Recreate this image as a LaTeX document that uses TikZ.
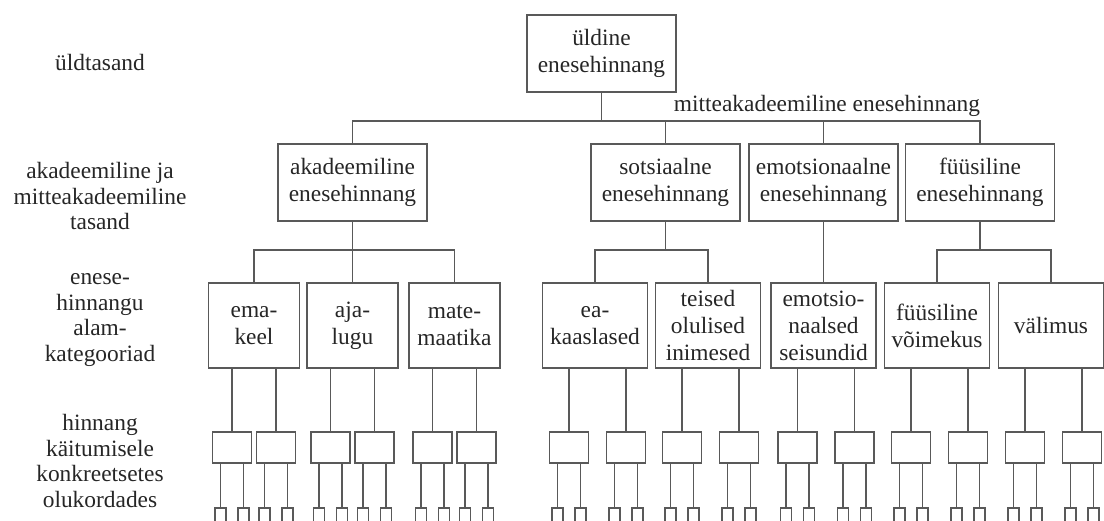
\documentclass[tikz,border=0pt]{standalone}
\usepackage{fontspec}
\setmainfont{Liberation Serif}
\usetikzlibrary{calc}

\tikzset{
  ebox/.style={draw=black!65, line width=1.3pt, align=center, inner sep=0pt,
    text=black!85, font=\fontsize{23.4}{27}\selectfont},
  lvlbox/.style={ebox, minimum width=149pt, minimum height=77pt},
  catbox/.style={ebox, minimum height=85pt},
  hbox/.style={draw=black!65, line width=1.3pt, inner sep=0pt, minimum width=39pt, minimum height=31pt},
  obox/.style={draw=black!65, line width=1.3pt, inner sep=0pt, minimum width=11pt, minimum height=14pt},
  link/.style={draw=black!65, line width=1.3pt},
  lvltext/.style={align=center, inner sep=0pt, text=black!85, font=\fontsize{23.4}{25.5}\selectfont}
}

\begin{document}
\begin{tikzpicture}[x=1pt, y=-1pt]
  \clip (0,0) rectangle (1104,520);

  % levels on the left
  \node [lvltext] (t1) at (100,62) {üldtasand};
  \node [lvltext] (t2) at (100,196) {akadeemiline ja\\mitteakadeemiline\\tasand};
  \node [lvltext] (t3) at (100,320) {enese-\\hinnangu\\alam-\\kategooriad};
  \node [lvltext] (t4) at (100,461) {hinnang\\käitumisele\\konkreetsetes\\olukordades};

  \node [lvlbox] (top) at (601.5,53.5) {üldine\\enesehinnang};

  \node [lvlbox] (akad) at (352.5,182.5) {akadeemiline\\enesehinnang};
  \node [lvlbox] (sots) at (665.5,182.5) {sotsiaalne\\enesehinnang};
  \node [lvlbox] (emots) at (823.5,182.5) {emotsionaalne\\enesehinnang};
  \node [lvlbox] (fyys) at (980,182.5) {füüsiline\\enesehinnang};

  \node [lvltext] (mitte) at (827,106) {mitteakadeemiline enesehinnang};

  \coordinate (b1) at (601.5,121);
  \draw [link] (top.south) -- (b1);
  \draw [link] (akad.north) |- (b1) -| (fyys.north);
  \draw [link] (sots.north) -- (sots.north |- b1);
  \draw [link] (emots.north) -- (emots.north |- b1);

  \node [catbox, minimum width=91pt] (ema) at (254,325.5) {ema-\\keel};
  \node [catbox, minimum width=91pt] (aja) at (352.5,325.5) {aja-\\lugu};
  \node [catbox, minimum width=91pt] (mate) at (454.5,325.5) {mate-\\maatika};
  \node [catbox, minimum width=105pt] (eak) at (595,325.5) {ea-\\kaaslased};
  \node [catbox, minimum width=105pt] (teised) at (708,325.5) {teised\\olulised\\inimesed};
  \node [catbox, minimum width=105pt] (emsei) at (823.5,325.5) {emotsio-\\naalsed\\seisundid};
  \node [catbox, minimum width=105pt] (fvoim) at (937,325.5) {füüsiline\\võimekus};
  \node [catbox, minimum width=105pt] (valim) at (1051,325.5) {välimus};

  \coordinate (b3a) at (352.5,250);
  \coordinate (b3s) at (665.5,250);
  \coordinate (b3f) at (980,250);
  \draw [link] (akad.south) -- (aja.north);
  \draw [link] (ema.north) |- (b3a) -| (mate.north);
  \draw [link] (sots.south) -- (b3s);
  \draw [link] (eak.north) |- (b3s) -| (teised.north);
  \draw [link] (emots.south) -- (emsei.north);
  \draw [link] (fyys.south) -- (b3f);
  \draw [link] (fvoim.north) |- (b3f) -| (valim.north);

  % concrete situations
  \foreach \p/\x/\l/\r in {ema/254/22/22, aja/352.5/22/22, mate/454.5/22/22,
      eak/595/26/31, teised/708/26/31, emsei/823.5/26/31, fvoim/937/26/31, valim/1051/26/31}{
    \foreach \k/\dx in {1/-\l, 2/\r}{
      \node [hbox] (\p-\k) at (\x+\dx,447.5) {};
      \draw [link] (\p-\k.north) -- (\p-\k.north |- \p.south);
      \foreach \j/\ddx in {a/-11.5, b/11.5}{
        \node [obox] (\p-\k\j) at (\x+\dx+\ddx,515) {};
        \draw [link] (\p-\k\j.north) -- (\p-\k\j.north |- \p-\k.south);
      }
    }
  }
\end{tikzpicture}
\end{document}
